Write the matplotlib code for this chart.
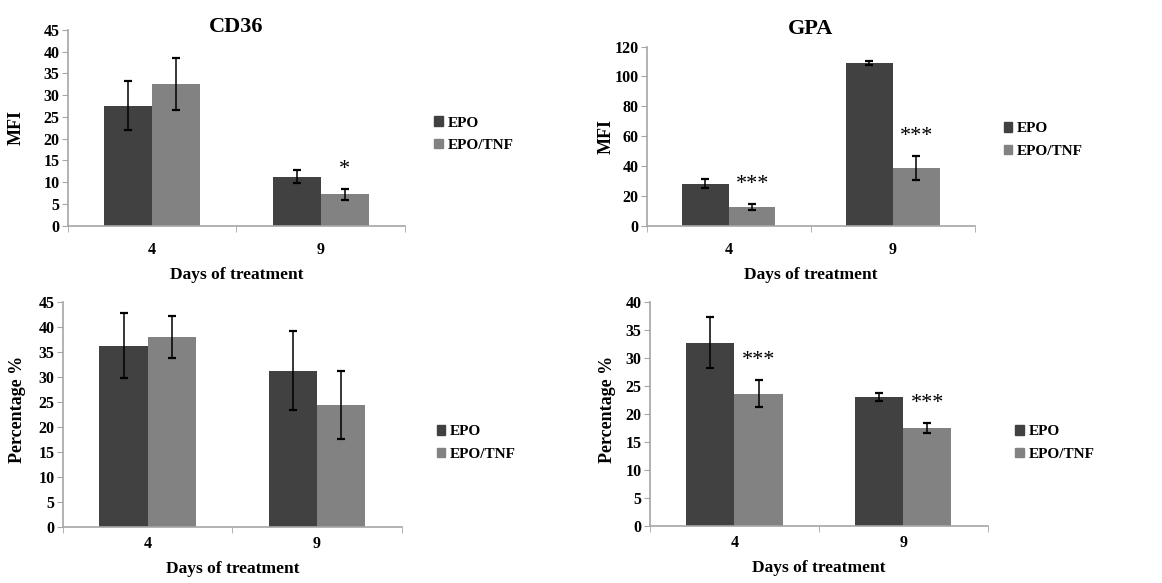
import numpy as np
import matplotlib
matplotlib.use('Agg')
import matplotlib.pyplot as plt
from matplotlib.patches import Patch

plt.rcParams['font.family'] = 'Liberation Serif'
plt.rcParams['font.weight'] = 'bold'
plt.rcParams['axes.labelweight'] = 'bold'
plt.rcParams['axes.titleweight'] = 'bold'

# data
days = ['4', '9']
series_names = ['EPO', 'EPO/TNF']

cd36_mfi_epo = [27.6, 11.3]
cd36_mfi_epo_err = [5.6, 1.4]
cd36_mfi_tnf = [32.6, 7.2]
cd36_mfi_tnf_err = [6.0, 1.3]
cd36_mfi_sig = ['', '*']

gpa_mfi_epo = [28.2, 109.2]
gpa_mfi_epo_err = [3.0, 1.5]
gpa_mfi_tnf = [12.5, 38.9]
gpa_mfi_tnf_err = [2.0, 8.0]
gpa_mfi_sig = ['***', '***']

cd36_pct_epo = [36.2, 31.2]
cd36_pct_epo_err = [6.5, 7.9]
cd36_pct_tnf = [37.9, 24.3]
cd36_pct_tnf_err = [4.2, 6.8]
cd36_pct_sig = ['', '']

gpa_pct_epo = [32.7, 23.0]
gpa_pct_epo_err = [4.6, 0.7]
gpa_pct_tnf = [23.6, 17.5]
gpa_pct_tnf_err = [2.4, 0.9]
gpa_pct_sig = ['***', '***']

dark = '#414141'
light = '#828282'
axis_grey = '#a6a6a6'


def draw_panel(ax, epo, epo_err, tnf, tnf_err, sig, ymax, ystep, ylabel,
               title=None, title_y=1.0, title_pad=0, xpad=12, xlabelpad=6):
    x = np.arange(len(days))
    w = 0.285
    ax.bar(x - w / 2, epo, w, color=dark)
    ax.bar(x + w / 2, tnf, w, color=light)
    ekw = dict(fmt='none', ecolor='black', elinewidth=1.1, capsize=3, capthick=1.6)
    ax.errorbar(x - w / 2, epo, yerr=epo_err, **ekw)
    ax.errorbar(x + w / 2, tnf, yerr=tnf_err, **ekw)

    # significance marks above the EPO/TNF bars
    for i, s in enumerate(sig):
        if s:
            ax.annotate(s, (x[i] + w / 2, tnf[i] + tnf_err[i]),
                        xytext=(0, 7), textcoords='offset points',
                        ha='center', va='bottom', fontsize=16, fontweight='normal')

    ax.set_xlim(-0.5, len(days) - 0.5)
    ax.set_ylim(0, ymax)
    ax.set_yticks(np.arange(0, ymax + 1, ystep))
    ax.set_xticks(x)
    ax.set_xticklabels(days)
    ax.set_xticks(np.arange(-0.5, len(days)), minor=True)
    ax.tick_params(axis='x', which='major', length=0, pad=xpad, labelsize=11.5)
    ax.tick_params(axis='x', which='minor', length=4, color=axis_grey)
    ax.tick_params(axis='y', length=4, color=axis_grey, labelsize=11.5, pad=2)
    for side in ['top', 'right']:
        ax.spines[side].set_visible(False)
    for side in ['left', 'bottom']:
        ax.spines[side].set_color(axis_grey)
        ax.spines[side].set_linewidth(1.2)
    ax.set_xlabel('Days of treatment', fontsize=12.5, labelpad=xlabelpad)
    ax.set_ylabel(ylabel, fontsize=13)
    if title:
        ax.set_title(title, fontsize=16, y=title_y, pad=title_pad)


fig = plt.figure(figsize=(11.62, 5.83), dpi=100)

ax1 = fig.add_axes([0.0585, 0.613, 0.290, 0.3355])
ax2 = fig.add_axes([0.5565, 0.613, 0.2825, 0.307])
ax3 = fig.add_axes([0.0542, 0.0966, 0.2915, 0.386])
ax4 = fig.add_axes([0.5594, 0.0983, 0.2906, 0.384])

draw_panel(ax1, cd36_mfi_epo, cd36_mfi_epo_err, cd36_mfi_tnf, cd36_mfi_tnf_err,
           cd36_mfi_sig, 45, 5, 'MFI', title='CD36', title_y=0.99, title_pad=0)
draw_panel(ax2, gpa_mfi_epo, gpa_mfi_epo_err, gpa_mfi_tnf, gpa_mfi_tnf_err,
           gpa_mfi_sig, 120, 20, 'MFI', title='GPA', title_y=1.0, title_pad=9)
draw_panel(ax3, cd36_pct_epo, cd36_pct_epo_err, cd36_pct_tnf, cd36_pct_tnf_err,
           cd36_pct_sig, 45, 5, 'Percentage %', xpad=7, xlabelpad=6)
draw_panel(ax4, gpa_pct_epo, gpa_pct_epo_err, gpa_pct_tnf, gpa_pct_tnf_err,
           gpa_pct_sig, 40, 5, 'Percentage %', xpad=7, xlabelpad=6)

ax1.yaxis.set_label_coords(-0.128, 0.5)
ax2.yaxis.set_label_coords(-0.097, 0.5)
ax3.yaxis.set_label_coords(-0.109, 0.52)
ax4.yaxis.set_label_coords(-0.10, 0.52)

handles = [Patch(color=dark), Patch(color=light)]
legend_pos = [(0.362, 0.77), (0.852, 0.76), (0.364, 0.24), (0.862, 0.24)]
for pos in legend_pos:
    fig.legend(handles, series_names, loc='center left', bbox_to_anchor=pos,
               frameon=False, fontsize=11, handlelength=0.55, handleheight=0.55,
               handletextpad=0.3, labelspacing=0.6)

fig.savefig('out.png', dpi=100)
